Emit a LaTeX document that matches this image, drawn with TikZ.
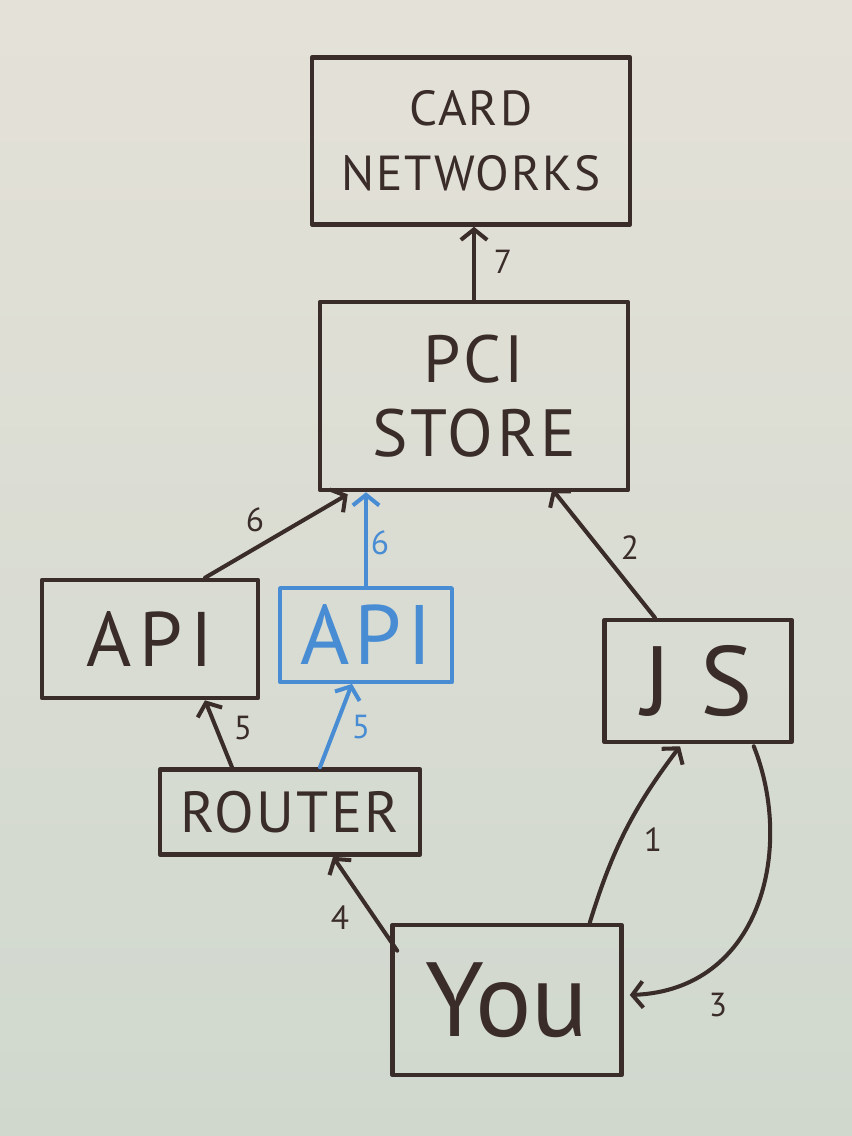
\documentclass[tikz,border=0pt]{standalone}
\usepackage{fontspec}
\setmainfont{PT Sans}
\usetikzlibrary{arrows.meta,calc}
\definecolor{ink}{RGB}{58,44,40}
\definecolor{blueink}{RGB}{72,140,212}
\definecolor{boardtop}{RGB}{228,225,216}
\definecolor{boardbot}{RGB}{208,216,206}
\begin{document}
\begin{tikzpicture}[x=0.02cm,y=-0.02cm,
  box/.style={draw=ink, line width=2.6pt, line cap=round, line join=round, rectangle, align=center, text=ink, inner sep=0pt},
  bluebox/.style={box, draw=blueink, text=blueink, line width=2.2pt},
  conn/.style={draw=ink, line width=2.3pt, line cap=round, -{Straight Barb[length=6pt,width=15pt,line width=2.3pt]}},
  bconn/.style={conn, draw=blueink},
  lab/.style={text=ink, font=\fontsize{19}{19}\selectfont, inner sep=0pt},
  blab/.style={lab, text=blueink}
]
\shade[top color=boardtop, bottom color=boardbot] (0,0) rectangle (852,1136);
\useasboundingbox (0,0) rectangle (852,1136);

\node[box, minimum width=6.36cm, minimum height=3.34cm, font=\fontsize{28}{37}\selectfont\addfontfeature{LetterSpace=4}] (card) at (471,141) {CARD\\NETWORKS};
\node[box, minimum width=6.16cm, minimum height=3.76cm, font=\fontsize{38}{42}\selectfont\addfontfeature{LetterSpace=5}] (pci) at (474,396) {PCI\\STORE};
\node[box, minimum width=4.32cm, minimum height=2.36cm, font=\fontsize{44}{44}\selectfont\addfontfeature{LetterSpace=10}] (api1) at (150,639) {API};
\node[bluebox, minimum width=3.44cm, minimum height=1.88cm, font=\fontsize{48}{48}\selectfont\addfontfeature{LetterSpace=6}] (api2) at (366,635) {API};
\node[box, minimum width=3.74cm, minimum height=2.44cm, font=\fontsize{56}{56}\selectfont\addfontfeature{LetterSpace=30}] (js) at (698,681) {JS};
\node[box, minimum width=5.2cm, minimum height=1.7cm, font=\fontsize{33}{33}\selectfont\addfontfeature{LetterSpace=4}] (router) at (290,812) {ROUTER};
\node[box, minimum width=4.58cm, minimum height=3.0cm, font=\fontsize{60}{60}\selectfont] (you) at (507,1000) {You};

\draw[conn] (pci.north) -- (pci.north |- card.south);
\node[lab] (l7) at (503,262) {7};

\draw[conn] ($(api1.north)+(55,0)$) -- ($(pci.south west)+(30,2)$);
\node[lab] (l6a) at (255,520) {6};

\draw[bconn] (api2.north) -- (api2.north |- pci.south);
\node[blab] (l6b) at (380,543) {6};

\draw[conn] ($(js.north)+(-43,0)$) -- ($(pci.south east)+(-78,-3)$);
\node[lab] (l2) at (630,548) {2};

\draw[conn] ($(router.north)+(-58,0)$) -- ($(api1.south)+(55,0)$);
\node[lab] (l5a) at (243,728) {5};

\draw[bconn] ($(router.north)+(30,0)$) -- ($(api2.south)+(-14,0)$);
\node[blab] (l5b) at (361,727) {5};

\draw[conn] ($(you.north east)+(-34,0)$) to[bend left=10] ($(js.south)+(-18,2)$);
\node[lab] (l1) at (653,840) {1};

\draw[conn] ($(you.north west)+(7,28)$) -- ($(router.south)+(43,0)$);
\node[lab] (l4) at (340,918) {4};

\draw[conn] ($(js.south east)+(-40,2)$) .. controls (795,850) and (760,990) .. ($(you.east)+(6,-5)$);
\node[lab] (l3) at (718,1005) {3};
\end{tikzpicture}
\end{document}
